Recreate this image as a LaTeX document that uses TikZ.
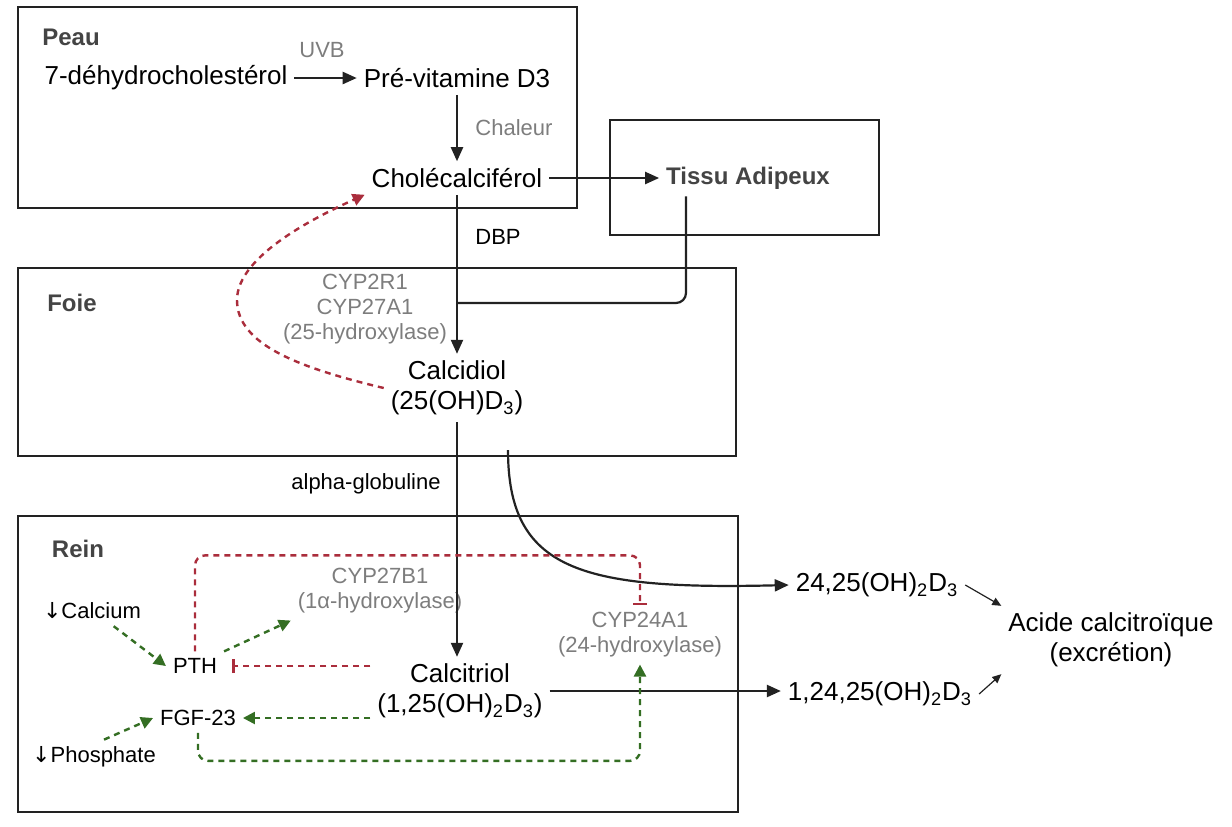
\documentclass[tikz,border=0pt]{standalone}
\usepackage{fontspec}
\setmainfont{Liberation Sans}
\newfontfamily\flechefont{DejaVu Sans}
\usetikzlibrary{arrows.meta}
\definecolor{rougeinh}{RGB}{170,45,60}
\definecolor{vertact}{RGB}{52,110,35}
\definecolor{grisenz}{RGB}{125,125,125}
\definecolor{grisorg}{RGB}{68,68,68}
\definecolor{noirtrait}{RGB}{34,34,34}
\newcommand{\ind}[1]{\textsubscript{#1}}

\begin{document}
\begin{tikzpicture}[x=0.5pt,y=-0.5pt,
   cadre/.style={line width=1.2pt, draw=noirtrait},
   organe/.style={font=\fontsize{12}{14}\selectfont\bfseries, text=grisorg},
   molecule/.style={font=\fontsize{13}{15}\selectfont, align=center},
   enzyme/.style={font=\fontsize{11}{12.5}\selectfont, text=grisenz, align=center},
   note/.style={font=\fontsize{11}{13}\selectfont},
   trait/.style={line width=1.1pt, draw=noirtrait},
   flux/.style={trait, -{Triangle[length=7pt,width=6pt]}},
   fin/.style={line width=0.6pt, draw=noirtrait, -{Triangle[length=4.5pt,width=4pt]}},
   inhib/.style={line width=1.2pt, draw=rougeinh, dash pattern=on 3pt off 2.5pt, -{Bar[width=7pt,line width=1.3pt]}},
   retour/.style={line width=1.2pt, draw=rougeinh, dash pattern=on 3pt off 2.5pt, -{Triangle[length=6pt,width=6pt]}},
   active/.style={line width=1.2pt, draw=vertact, dash pattern=on 3pt off 2.5pt, -{Triangle[length=6pt,width=6pt]}}]
      \useasboundingbox (0,0) rectangle (1232,826);
      \draw [cadre] (18,7) rectangle (577,208);
      \draw [cadre] (610,120) rectangle (879,235);
      \draw [cadre] (18,268) rectangle (736,456);
      \draw [cadre] (18,516) rectangle (738,812);
      \node [organe] (peau) at (71,37) {Peau};
      \node [organe] (foie) at (72,303) {Foie};
      \node [organe] (rein) at (78,549) {Rein};
      \node [molecule] (dehydro) at (166,78) {7-déhydrocholestérol};
      \node [enzyme] (uvb) at (322,50) {UVB};
      \node [molecule] (previt) at (457,78) {Pré-vitamine D3};
      \node [enzyme] (chaleur) at (514,128) {Chaleur};
      \node [molecule] (chole) at (457,178) {Cholécalciférol};
      \node [organe] (tissu) at (748,178) {Tissu Adipeux};
      \node [note] (dbp) at (498,237) {DBP};
      \node [enzyme] (cyp2r1) at (365,309) {CYP2R1\\CYP27A1\\(25-hydroxylase)};
      \node [molecule] (calcidiol) at (457,388) {Calcidiol\\(25(OH)D\ind{3})};
      \node [note] (alpha) at (366,484) {alpha-globuline};
      \node [molecule] (calcitriol) at (460,691) {Calcitriol\\(1,25(OH)\ind{2}D\ind{3})};
      \node [enzyme] (cyp27b1) at (380,591) {CYP27B1\\(1α-hydroxylase)};
      \node [enzyme] (cyp24a1) at (640,635) {CYP24A1\\(24-hydroxylase)};
      \node [note] (calcium) at (92,611) {{\flechefont ↓}Calcium};
      \node [note] (pth) at (195,666) {PTH};
      \node [note] (fgf) at (198,718) {FGF-23};
      \node [note] (phos) at (94,757) {{\flechefont ↓}Phosphate};
      \node [molecule] (m2425) at (877,585) {24,25(OH)\ind{2}D\ind{3}};
      \node [molecule] (m12425) at (880,694) {1,24,25(OH)\ind{2}D\ind{3}};
      \node [molecule] (acide) at (1111,640) {Acide calcitroïque\\(excrétion)};
      \coordinate (graisse) at (686,0);
      \coordinate (jonction) at (457,303);
      \coordinate (depart) at (508,450);
      \draw [flux] (dehydro) -- (previt);
      \draw [flux] (previt) -- (chole);
      \draw [flux] (chole) -- (tissu);
      \draw [flux] (chole) -- (calcidiol);
      \draw [trait, rounded corners=5pt] (tissu.south -| graisse) |- (jonction);
      \draw [flux] (calcidiol.south) -- (calcidiol.south |- calcitriol.north);
      \draw [flux] (depart) .. controls (508,570) and (580,590) .. (m2425.west);
      \draw [flux] (calcitriol.east) -- (calcitriol.east -| m12425.west);
      \draw [fin] (m2425.east) -- (acide.north west);
      \draw [fin] (m12425.east) -- (acide.south west);
      \draw [retour] (calcidiol.west) .. controls (300,368) and (237,345) .. (237,300) .. controls (237,255) and (320,215) .. (chole.south west);
      \draw [inhib, shorten >=4pt] (calcitriol.west |- pth) -- (pth);
      \draw [inhib, rounded corners=5pt] (pth.north) -- ++(0,-96) -| (cyp24a1.north);
      \draw [active, rounded corners=5pt] (fgf.south) -- ++(0,28) -| (cyp24a1.south);
      \draw [active] (calcitriol.west |- fgf) -- (fgf);
      \draw [active] (calcium.-35) -- (pth.west);
      \draw [active] (pth.north east) -- (cyp27b1.south west);
      \draw [active] (phos.60) -- (fgf.west);
   \end{tikzpicture}
\end{document}
